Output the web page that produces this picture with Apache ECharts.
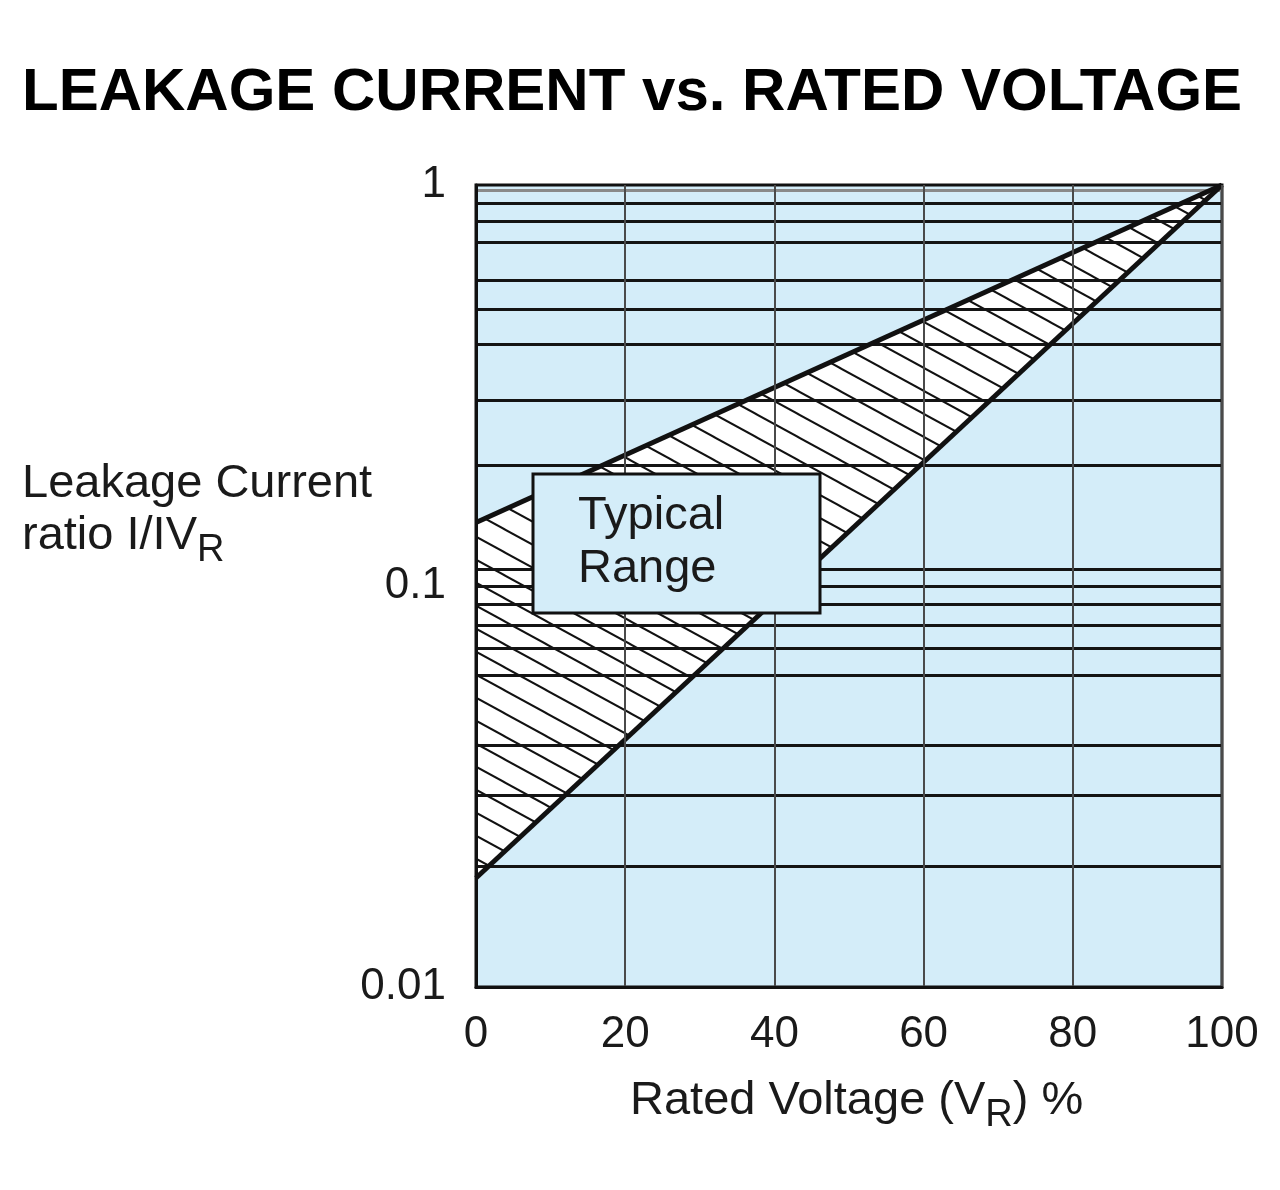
<!DOCTYPE html>
<html>
<head>
<meta charset="utf-8">
<script src="https://cdn.jsdelivr.net/npm/echarts@6/dist/echarts.min.js"></script>
<style>html,body{margin:0;padding:0;background:#fff}#c{width:1280px;height:1190px}</style>
</head>
<body>
<div id="c"></div>
<script>
// ---- data ----
const xTicks = [0, 20, 40, 60, 80, 100];
const yTickLabels = ['0.01', '0.1', '1'];
// horizontal chart rulings
const gridLevels = [0.897, 0.809, 0.721, 0.583, 0.491, 0.397, 0.291, 0.195,
                    0.1083, 0.1012, 0.0918, 0.0813, 0.0658, 0.0551, 0.045, 0.0328, 0.0217];
const greyLevels = [0.966];
const upperBound = [[0, 0.144], [100, 1]];
const lowerBound = [[0, 0.0187], [100, 1]];
const annotation = ['Typical', 'Range'];

const FONT = '"Liberation Sans", Arial, Helvetica, sans-serif';
const INK = '#111';
const BG = '#d4edf9';

// hatch pattern
function makeHatch() {
  const W = 42, H = 23;
  const c = document.createElement('canvas');
  c.width = W; c.height = H;
  const g = c.getContext('2d');
  g.fillStyle = '#fff';
  g.fillRect(0, 0, W, H);
  g.strokeStyle = INK;
  g.lineWidth = 2;
  for (let k = -1; k <= 1; k++) {
    g.beginPath();
    g.moveTo(-W, -H + k * H);
    g.lineTo(2 * W, 2 * H + k * H);
    g.stroke();
  }
  return { image: c, repeat: 'repeat' };
}
const hatch = makeHatch();

const chart = echarts.init(document.getElementById('c'), null, { renderer: 'canvas' });

const markData = gridLevels.map(v => ({ yAxis: v }))
  .concat(greyLevels.map(v => ({ yAxis: v, lineStyle: { color: '#8a8a8a', width: 3 } })));

chart.setOption({
  animation: false,
  backgroundColor: '#fff',
  grid: {
    left: 476, right: 58, top: 185, bottom: 203,
    show: true, backgroundColor: BG, borderColor: INK, borderWidth: 3
  },
  xAxis: {
    type: 'value', min: xTicks[0], max: xTicks[xTicks.length - 1], interval: 20,
    z: 10,
    axisLine: { show: true, lineStyle: { color: INK, width: 3 } },
    axisTick: { show: false },
    axisLabel: { fontSize: 44, fontFamily: FONT, color: '#1a1a1a', margin: 26 },
    splitLine: { show: true, lineStyle: { color: '#4a4a4a', width: 2 } }
  },
  yAxis: {
    type: 'log', logBase: 10, min: 0.01, max: 1,
    z: 10,
    axisLine: { show: true, lineStyle: { color: INK, width: 3 } },
    axisTick: { show: false },
    axisLabel: {
      fontSize: 44, fontFamily: FONT, color: '#1a1a1a', margin: 30,
      formatter: function (v) {
        const e = Math.round(Math.log10(v));
        return yTickLabels[e + 2];
      }
    },
    splitLine: { show: false }
  },
  series: [
    {
      type: 'custom',
      coordinateSystem: 'cartesian2d',
      silent: true,
      z: 2,
      data: [[50, 0.1]],
      renderItem: function (params, api) {
        const pts = [api.coord(upperBound[0]), api.coord(upperBound[1]), api.coord(lowerBound[0])];
        return { type: 'polygon', shape: { points: pts }, style: { fill: hatch, stroke: null } };
      }
    },
    {
      type: 'line', data: upperBound, symbol: 'none', silent: true, z: 6,
      lineStyle: { color: INK, width: 5 },
      markLine: {
        silent: true, symbol: 'none', animation: false,
        label: { show: false },
        lineStyle: { color: '#141414', width: 3.2, type: 'solid' },
        emphasis: { disabled: true },
        data: markData
      }
    },
    {
      type: 'line', data: lowerBound, symbol: 'none', silent: true, z: 6,
      lineStyle: { color: INK, width: 5 }
    }
  ],
  graphic: [
    {
      type: 'text', x: 22, y: 93, z: 100,
      style: {
        text: 'LEAKAGE CURRENT vs. RATED VOLTAGE',
        fontSize: 60, fontWeight: 'bold', fontFamily: FONT, fill: '#000',
        align: 'left', verticalAlign: 'middle'
      }
    },
    {
      type: 'text', x: 22, y: 484, z: 100,
      style: {
        text: 'Leakage Current',
        fontSize: 47, fontFamily: FONT, fill: '#1a1a1a',
        align: 'left', verticalAlign: 'middle'
      }
    },
    {
      type: 'text', x: 22, y: 536, z: 100,
      style: {
        text: '{a|ratio I/IV}{s|R}',
        fontFamily: FONT, fill: '#1a1a1a',
        align: 'left', verticalAlign: 'middle',
        rich: {
          a: { fontSize: 47, fontFamily: FONT, fill: '#1a1a1a' },
          s: { fontSize: 38, fontFamily: FONT, fill: '#1a1a1a', padding: [30, 0, 0, 0] }
        }
      }
    },
    {
      type: 'text', x: 630, y: 1101, z: 100,
      style: {
        text: '{a|Rated Voltage (V}{s|R}{a|) %}',
        fontFamily: FONT, fill: '#1a1a1a',
        align: 'left', verticalAlign: 'middle',
        rich: {
          a: { fontSize: 47, fontFamily: FONT, fill: '#1a1a1a' },
          s: { fontSize: 38, fontFamily: FONT, fill: '#1a1a1a', padding: [30, 0, 0, 0] }
        }
      }
    },
    {
      type: 'rect', z: 100,
      shape: { x: 533, y: 474, width: 287, height: 139 },
      style: { fill: BG, stroke: INK, lineWidth: 3 }
    },
    {
      type: 'text', x: 578, y: 516, z: 101,
      style: {
        text: annotation[0], fontSize: 47, fontFamily: FONT, fill: '#1a1a1a',
        align: 'left', verticalAlign: 'middle'
      }
    },
    {
      type: 'text', x: 578, y: 569, z: 101,
      style: {
        text: annotation[1], fontSize: 47, fontFamily: FONT, fill: '#1a1a1a',
        align: 'left', verticalAlign: 'middle'
      }
    }
  ]
});
</script>
</body>
</html>
